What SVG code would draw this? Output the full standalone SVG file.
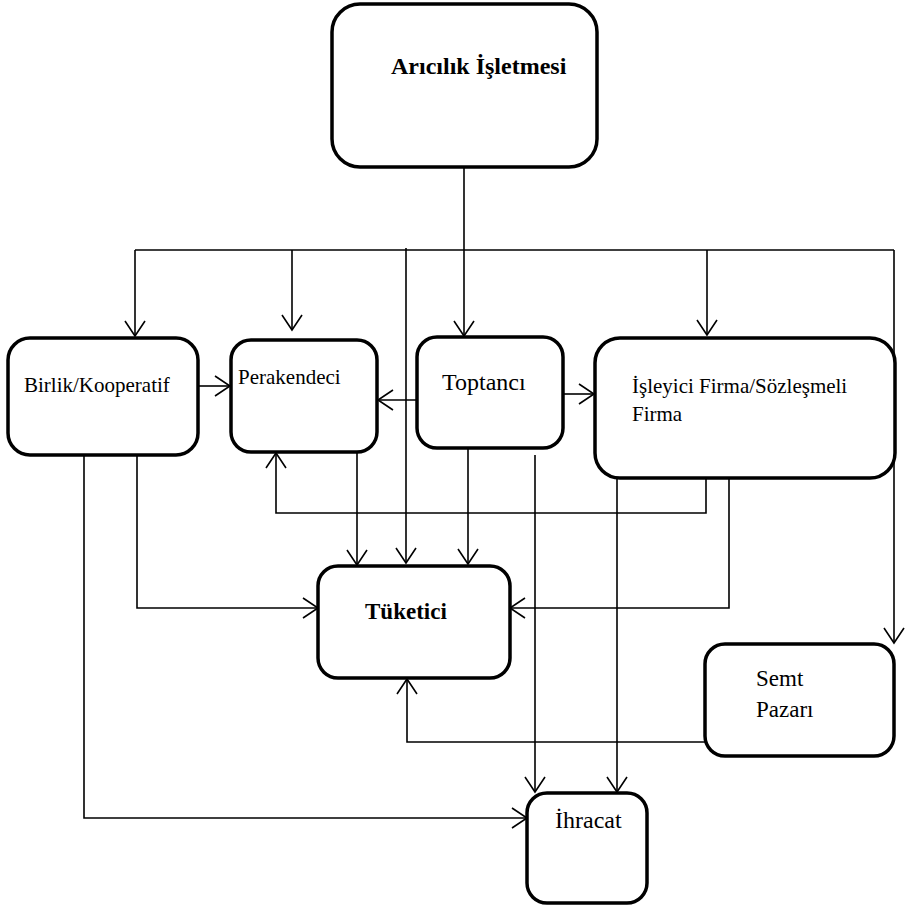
<svg xmlns="http://www.w3.org/2000/svg" width="906" height="908" viewBox="0 0 906 908">
<style>
.box{fill:#fff;stroke:#000;stroke-width:3.5}
.ln{fill:none;stroke:#000;stroke-width:1.6}
.t{font-family:"Liberation Serif","Times New Roman",serif;fill:#000}
.b{font-weight:bold}
</style>
<defs>
<marker id="ah" markerUnits="userSpaceOnUse" markerWidth="24" markerHeight="24" viewBox="-17 -12 20 24" refX="0" refY="0" orient="auto">
<path d="M-15,-10 L0,0 L-15,10" fill="none" stroke="#000" stroke-width="1.6"/>
</marker>
</defs>
<rect width="906" height="908" fill="#fff"/>
<g id="connectors" class="ln">
<path d="M464,168 V336" marker-end="url(#ah)"/>
<path d="M135,250 H894"/>
<path d="M135,250 V336" marker-end="url(#ah)"/>
<path d="M292,250 V330" marker-end="url(#ah)"/>
<path d="M406,248 V563" marker-end="url(#ah)"/>
<path d="M707,250 V335" marker-end="url(#ah)"/>
<path d="M894,250 V643" marker-end="url(#ah)"/>
<path d="M199,386 H230" marker-end="url(#ah)"/>
<path d="M417,400 H378" marker-end="url(#ah)"/>
<path d="M563,394 H594" marker-end="url(#ah)"/>
<path d="M357,452 V565" marker-end="url(#ah)"/>
<path d="M468,448 V564" marker-end="url(#ah)"/>
<path d="M535,455 V792" marker-end="url(#ah)"/>
<path d="M617,478 V792" marker-end="url(#ah)"/>
<path d="M706,478 V513 H276 V453" marker-end="url(#ah)"/>
<path d="M729,478 V608 H510" marker-end="url(#ah)"/>
<path d="M137,450 V608 H318" marker-end="url(#ah)"/>
<path d="M84,455 V818 H527" marker-end="url(#ah)"/>
<path d="M705,742 H407 V679" marker-end="url(#ah)"/>
</g>
<g id="aricilik">
<rect class="box" x="332" y="4" width="265" height="163" rx="28"/>
<text class="t b" x="391" y="74" font-size="24">Arıcılık İşletmesi</text>
</g>
<g id="birlik">
<rect class="box" x="8" y="338" width="190" height="117" rx="22"/>
<text class="t" x="24" y="392" font-size="21">Birlik/Kooperatif</text>
</g>
<g id="perakendeci">
<rect class="box" x="231" y="340" width="146" height="112" rx="20"/>
<text class="t" x="238" y="384" font-size="21">Perakendeci</text>
</g>
<g id="toptanci">
<rect class="box" x="417" y="337" width="146" height="111" rx="20"/>
<text class="t" x="442" y="390" font-size="24">Toptancı</text>
</g>
<g id="isleyici">
<rect class="box" x="595" y="338" width="300" height="140" rx="25"/>
<text class="t" x="632" y="393" font-size="21">İşleyici Firma/Sözleşmeli</text>
<text class="t" x="632" y="421" font-size="21">Firma</text>
</g>
<g id="tuketici">
<rect class="box" x="318" y="566" width="192" height="112" rx="20"/>
<text class="t b" x="365" y="619" font-size="23">Tüketici</text>
</g>
<g id="semt">
<rect class="box" x="705" y="644" width="189" height="112" rx="20"/>
<text class="t" x="756" y="686" font-size="23">Semt</text>
<text class="t" x="756" y="717" font-size="23">Pazarı</text>
</g>
<g id="ihracat">
<rect class="box" x="527" y="793" width="120" height="110" rx="20"/>
<text class="t" x="555" y="828" font-size="24">İhracat</text>
</g>
</svg>
